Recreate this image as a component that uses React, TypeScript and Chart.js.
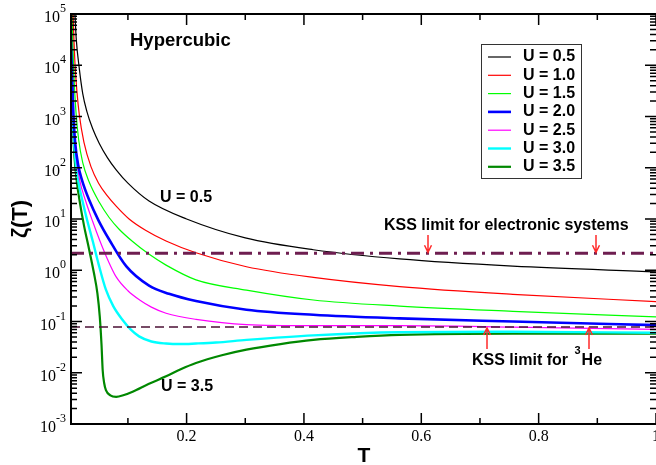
import React, { useEffect, useRef } from 'react';
import { Chart, registerables } from 'chart.js';
Chart.register(...registerables);

// ---- data ----
const seriesLabels = ['U = 0.5', 'U = 1.0', 'U = 1.5', 'U = 2.0', 'U = 2.5', 'U = 3.0', 'U = 3.5'];
const seriesColors = ['#000000', '#ff0000', '#00ff00', '#0000ff', '#ff00ff', '#00ffff', '#008800'];
const seriesWidths = [1.2, 1.2, 1.2, 2.6, 1.2, 2.4, 2.2];

const tU05 = [0.007, 0.0097, 0.012, 0.017, 0.023, 0.03, 0.04, 0.051, 0.065, 0.08, 0.1, 0.136, 0.2, 0.3, 0.416, 0.563, 0.756, 1.0];
const zU05 = [3.9e5, 1e5, 3.2e4, 8900, 2800, 1260, 575, 302, 158, 91, 50, 22.4, 10, 4.27, 2.51, 1.66, 1.2, 0.93];

const tU10 = [0.005, 0.0065, 0.008, 0.0097, 0.013, 0.017, 0.025, 0.037, 0.05, 0.065, 0.08, 0.102, 0.13, 0.165, 0.216, 0.302, 0.416, 0.563, 0.756, 1.0];
const zU10 = [3.2e5, 1e5, 3.2e4, 1.12e4, 3160, 1120, 316, 105, 50, 28.2, 17.8, 10, 6.03, 3.72, 2.19, 1.17, 0.724, 0.479, 0.339, 0.245];

const tU15 = [0.004, 0.005, 0.0065, 0.008, 0.0114, 0.016, 0.023, 0.034, 0.051, 0.068, 0.085, 0.108, 0.135, 0.165, 0.216, 0.302, 0.416, 0.563, 0.756, 1.0];
const zU15 = [2.5e5, 1e5, 2e4, 6300, 1260, 355, 126, 52.5, 21.4, 10.7, 6.31, 3.63, 2.09, 1.26, 0.65, 0.41, 0.263, 0.2, 0.158, 0.123];

const tU20 = [0.003, 0.0035, 0.0045, 0.0058, 0.0075, 0.01, 0.0153, 0.022, 0.034, 0.05, 0.068, 0.097, 0.136, 0.17, 0.216, 0.302, 0.416, 0.563, 0.756, 1.0];
const zU20 = [2.5e5, 1e5, 1.58e4, 3160, 891, 316, 112, 56.2, 23.4, 9.33, 3.98, 1.2, 0.501, 0.347, 0.251, 0.17, 0.135, 0.115, 0.1, 0.085];

const tU25 = [0.003, 0.005, 0.008, 0.012, 0.018, 0.028, 0.04, 0.052, 0.065, 0.08, 0.1, 0.12, 0.14, 0.165, 0.216, 0.302, 0.416, 0.563, 0.756, 1.0];
const zU25 = [63100, 3980, 562, 158, 56.2, 22.4, 8.91, 3.8, 1.66, 0.741, 0.398, 0.263, 0.191, 0.145, 0.11, 0.087, 0.083, 0.083, 0.078, 0.07];

const tU30 = [0.003, 0.0045, 0.007, 0.011, 0.016, 0.023, 0.03, 0.04, 0.05, 0.0625, 0.075, 0.091, 0.105, 0.119, 0.14, 0.165, 0.19, 0.216, 0.25, 0.302, 0.416, 0.563, 0.756, 1.0];
const zU30 = [50100, 4470, 562, 126, 50.1, 21.4, 10, 3.72, 1.32, 0.417, 0.2, 0.107, 0.0692, 0.0513, 0.0407, 0.0372, 0.0363, 0.0372, 0.0389, 0.0437, 0.0537, 0.0617, 0.0631, 0.0603];

const tU35 = [0.003, 0.0045, 0.0065, 0.009, 0.013, 0.017, 0.025, 0.034, 0.042, 0.048, 0.052, 0.055, 0.057, 0.0595, 0.0625, 0.07, 0.08, 0.092, 0.108, 0.135, 0.165, 0.19, 0.216, 0.26, 0.302, 0.36, 0.416, 0.49, 0.563, 0.756, 1.0];
const zU35 = [31600, 2820, 562, 158, 52.5, 25.1, 7.59, 2.51, 0.891, 0.355, 0.126, 0.0355, 0.0112, 0.0063, 0.00457, 0.00363, 0.00339, 0.00363, 0.00427, 0.00603, 0.00851, 0.0117, 0.0155, 0.0219, 0.0282, 0.0363, 0.0437, 0.0501, 0.055, 0.0582, 0.0582];

const seriesT = [tU05, tU10, tU15, tU20, tU25, tU30, tU35];
const seriesZ = [zU05, zU10, zU15, zU20, zU25, zU30, zU35];

const kssElectronic = 2.15;
const kss3He = 0.078;

const xMin = 0.003;
const xMax = 1.0;
const yMin = 1e-3;
const yMax = 1e5;
const xMajorTicks = [0.2, 0.4, 0.6, 0.8, 1.0];
const xMajorLabels = ['0.2', '0.4', '0.6', '0.8', '1'];
const xMinorTicks = [0.1, 0.3, 0.5, 0.7, 0.9];
const yDecades = [-3, -2, -1, 0, 1, 2, 3, 4, 5];

export default function App() {
  const ref = useRef<HTMLCanvasElement | null>(null);

  useEffect(() => {
    if (!ref.current) return;

    const datasets: any[] = [
      {
        label: 'KSS electronic',
        data: [{ x: xMin, y: kssElectronic }, { x: xMax, y: kssElectronic }],
        borderColor: '#6e1e50',
        borderWidth: 3,
        borderDash: [13, 6, 3, 6],
        pointRadius: 0,
      },
      {
        label: 'KSS 3He',
        data: [{ x: xMin, y: kss3He }, { x: xMax, y: kss3He }],
        borderColor: '#4b1035',
        borderWidth: 1.5,
        borderDash: [9, 5],
        pointRadius: 0,
      },
    ];
    seriesLabels.forEach((lab, i) => {
      datasets.push({
        label: lab,
        data: seriesT[i].map((t, j) => ({ x: t, y: seriesZ[i][j] })),
        borderColor: seriesColors[i],
        borderWidth: seriesWidths[i],
        pointRadius: 0,
        cubicInterpolationMode: 'monotone',
        fill: false,
      });
    });

    const decor = {
      id: 'decor',
      afterDraw(chart: any) {
        const ctx = chart.ctx as CanvasRenderingContext2D;
        const xs = chart.scales.x;
        const ys = chart.scales.y;
        const { left, right, top, bottom } = chart.chartArea;
        ctx.save();
        // frame
        ctx.strokeStyle = '#000';
        ctx.lineWidth = 2;
        ctx.beginPath();
        ctx.moveTo(right + 1, top);
        ctx.lineTo(left, top);
        ctx.lineTo(left, bottom);
        ctx.lineTo(right + 1, bottom);
        ctx.stroke();
        // x ticks (inward, top and bottom)
        ctx.lineWidth = 1.5;
        const xt = (v: number, len: number) => {
          const px = xs.getPixelForValue(v);
          ctx.beginPath();
          ctx.moveTo(px, bottom);
          ctx.lineTo(px, bottom - len);
          ctx.moveTo(px, top);
          ctx.lineTo(px, top + len);
          ctx.stroke();
        };
        xMajorTicks.forEach((v) => xt(v, 11));
        xMinorTicks.forEach((v) => xt(v, 6));
        // y ticks
        const yt = (v: number, len: number) => {
          const py = ys.getPixelForValue(v);
          ctx.beginPath();
          ctx.moveTo(left, py);
          ctx.lineTo(left + len, py);
          ctx.moveTo(right, py);
          ctx.lineTo(right - len, py);
          ctx.stroke();
        };
        yDecades.forEach((d) => {
          yt(Math.pow(10, d), 11);
          if (d < 5) {
            for (let m = 2; m <= 9; m++) yt(m * Math.pow(10, d), 6);
          }
        });
        // x labels
        ctx.fillStyle = '#000';
        ctx.font = '16px "Liberation Serif", serif';
        ctx.textAlign = 'center';
        ctx.textBaseline = 'middle';
        xMajorTicks.forEach((v, i) => {
          ctx.fillText(xMajorLabels[i], xs.getPixelForValue(v), 437);
        });
        // y labels
        yDecades.forEach((d) => {
          const py = ys.getPixelForValue(Math.pow(10, d));
          const exp = String(d);
          ctx.font = '12px "Liberation Serif", serif';
          const ew = ctx.measureText(exp).width;
          const xb = 66 - ew;
          ctx.textAlign = 'left';
          ctx.fillText(exp, xb, py - 5);
          ctx.font = '16px "Liberation Serif", serif';
          ctx.textAlign = 'right';
          ctx.fillText('10', xb, py + 4);
        });
        // axis titles
        ctx.font = 'bold 21px "Liberation Sans", Arial, sans-serif';
        ctx.textAlign = 'center';
        ctx.fillText('T', 364, 456);
        ctx.save();
        ctx.translate(21, 219);
        ctx.rotate(-Math.PI / 2);
        ctx.font = 'bold 22px "Liberation Sans", Arial, sans-serif';
        ctx.fillText('ζ(T)', 0, 0);
        ctx.restore();
        // annotations
        ctx.textAlign = 'left';
        ctx.font = 'bold 18.5px "Liberation Sans", Arial, sans-serif';
        ctx.fillText('Hypercubic', 130, 41);
        ctx.font = 'bold 16px "Liberation Sans", Arial, sans-serif';
        ctx.fillText('U = 0.5', 160, 198);
        ctx.fillText('U = 3.5', 161, 387);
        ctx.fillText('KSS limit for electronic systems', 384, 226);
        const s1 = 'KSS limit for ';
        ctx.fillText(s1, 472, 361);
        const w1 = ctx.measureText(s1).width;
        ctx.font = 'bold 11px "Liberation Sans", Arial, sans-serif';
        ctx.fillText('3', 472 + w1 + 2, 351);
        const w3 = ctx.measureText('3').width;
        ctx.font = 'bold 16px "Liberation Sans", Arial, sans-serif';
        ctx.fillText('He', 472 + w1 + 2 + w3 + 1, 361);
        // arrows
        ctx.strokeStyle = '#ff2a2a';
        ctx.lineWidth = 1.5;
        const arrow = (x: number, y1: number, y2: number) => {
          const dir = y2 > y1 ? 1 : -1;
          ctx.beginPath();
          ctx.moveTo(x, y1);
          ctx.lineTo(x, y2);
          ctx.moveTo(x - 3.5, y2 - dir * 7);
          ctx.lineTo(x, y2);
          ctx.lineTo(x + 3.5, y2 - dir * 7);
          ctx.stroke();
        };
        const yE = ys.getPixelForValue(kssElectronic);
        const yH = ys.getPixelForValue(kss3He);
        arrow(428, 235, yE - 1);
        arrow(596, 235, yE - 1);
        arrow(487, 349, yH + 1);
        arrow(589, 349, yH + 1);
        // legend
        ctx.strokeStyle = '#333';
        ctx.lineWidth = 1;
        ctx.fillStyle = '#fff';
        ctx.fillRect(481.5, 44.5, 100, 134);
        ctx.strokeRect(481.5, 44.5, 100, 134);
        ctx.fillStyle = '#000';
        ctx.font = 'bold 16px "Liberation Sans", Arial, sans-serif';
        ctx.textAlign = 'left';
        seriesLabels.forEach((lab, i) => {
          const cy = 57 + i * 18.3;
          ctx.strokeStyle = seriesColors[i];
          ctx.lineWidth = seriesWidths[i];
          ctx.beginPath();
          ctx.moveTo(488, cy);
          ctx.lineTo(511, cy);
          ctx.stroke();
          ctx.fillText(lab, 523, cy);
        });
        ctx.restore();
      },
    };

    const chart = new Chart(ref.current, {
      type: 'line',
      data: { datasets },
      options: {
        animation: false,
        responsive: false,
        parsing: false as any,
        layout: { padding: { left: 71, top: 14, right: 0, bottom: 41 } },
        scales: {
          x: { type: 'linear', min: xMin, max: xMax, display: false },
          y: { type: 'logarithmic', min: yMin, max: yMax, display: false },
        },
        plugins: { legend: { display: false }, tooltip: { enabled: false } },
        elements: { point: { radius: 0 } },
      },
      plugins: [decor],
    });
    return () => chart.destroy();
  }, []);

  return (
    <div style={{ position: 'absolute', left: 0, top: 0, width: 656, height: 465, background: '#fff' }}>
      <canvas ref={ref} width={656} height={465} style={{ display: 'block' }} />
    </div>
  );
}
